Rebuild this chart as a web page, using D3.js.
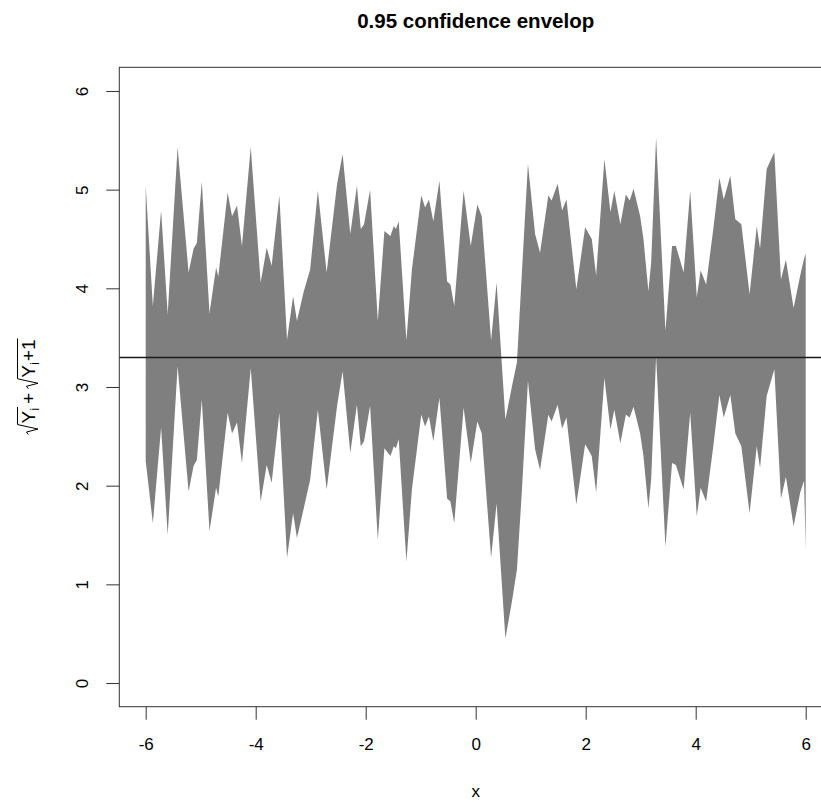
<!DOCTYPE html>
<html>
<head>
<meta charset="utf-8">
<script src="https://cdn.jsdelivr.net/npm/d3@7"></script>
<style>
  html, body { margin: 0; padding: 0; background: #fff; }
  svg { display: block; font-family: "Liberation Sans", Arial, Helvetica, sans-serif; }
</style>
</head>
<body>
<svg id="chart" width="821" height="803"></svg>
<script>
// ---------------- data ----------------
const titleText = "0.95 confidence envelop";
const xLabel = "x";
const xTicks = [-6, -4, -2, 0, 2, 4, 6];
const yTicks = [0, 1, 2, 3, 4, 5, 6];
const refLevel = 3.3;

const xs = [-6.00,-5.87,-5.72,-5.60,-5.42,-5.22,-5.13,-5.07,-4.98,-4.84,-4.72,-4.68,-4.51,-4.43,-4.34,-4.25,-4.09,-3.91,-3.80,-3.71,-3.57,-3.43,-3.32,-3.25,-3.13,-3.01,
  -2.87,-2.71,-2.52,-2.42,-2.28,-2.16,-2.09,-2.03,-1.92,-1.78,-1.66,-1.55,-1.49,-1.45,-1.40,-1.26,-1.16,-0.99,-0.92,-0.85,-0.77,-0.66,-0.52,-0.46,-0.39,-0.22,-0.09,
  0.03,0.11,0.28,0.38,0.54,0.66,0.75,0.84,0.95,1.08,1.17,1.32,1.38,1.49,1.57,1.65,1.83,1.99,2.11,2.19,2.34,2.45,2.52,2.63,2.73,2.80,2.87,
  2.99,3.05,3.14,3.19,3.28,3.45,3.57,3.64,3.78,3.90,4.02,4.09,4.19,4.32,4.43,4.51,4.63,4.72,4.83,4.98,5.11,5.17,5.29,5.43,5.55,5.64,5.78,5.90,5.97,6.00];

const upper = [5.04,3.82,4.79,3.74,5.43,4.16,4.40,4.46,5.08,3.75,4.21,4.12,4.97,4.73,4.84,4.43,5.43,4.06,4.41,4.23,4.94,3.48,3.92,3.67,3.96,4.19,
  4.99,4.16,5.06,5.36,4.55,5.04,4.60,4.65,5.00,3.67,4.58,4.53,4.63,4.60,4.68,3.47,4.19,4.94,4.82,4.90,4.68,5.09,4.07,4.04,3.82,4.99,4.43,
  4.85,4.73,3.47,4.06,2.67,3.01,3.25,4.16,5.26,4.55,4.36,4.94,4.89,5.06,4.79,4.90,3.99,4.62,4.50,4.13,5.31,4.77,4.99,4.65,4.95,4.89,5.01,
  4.73,4.50,3.97,4.26,5.53,3.57,4.43,4.43,4.16,4.99,3.91,4.18,4.04,4.60,5.12,4.90,5.14,4.70,4.65,3.94,4.63,4.40,5.21,5.38,4.09,4.29,3.80,4.13,4.30,4.35];

const lower = [2.25,1.62,2.59,1.50,3.21,1.94,2.20,2.26,2.87,1.54,1.98,1.89,2.74,2.53,2.64,2.23,3.19,1.84,2.21,2.03,2.74,1.27,1.72,1.47,1.76,2.06,
  2.77,1.96,2.81,3.16,2.33,2.82,2.40,2.45,2.81,1.45,2.38,2.30,2.40,2.38,2.47,1.23,1.96,2.72,2.60,2.70,2.45,2.89,1.87,1.84,1.62,2.79,2.23,
  2.65,2.53,1.27,1.82,0.45,0.83,1.15,1.95,3.06,2.37,2.16,2.72,2.65,2.82,2.58,2.69,1.81,2.42,2.30,1.93,3.09,2.57,2.77,2.43,2.72,2.69,2.80,
  2.53,2.30,1.77,2.06,3.31,1.38,2.23,2.21,1.96,2.74,1.69,1.98,1.84,2.40,2.92,2.69,2.92,2.53,2.40,1.72,2.40,2.18,2.91,3.18,1.87,2.09,1.59,1.93,2.05,1.35];

// ---------------- layout ----------------
const W = 821, H = 803;
const plot = { left: 119.3, right: 832.1, top: 67.3, bottom: 706.7 };
const svg = d3.select("#chart");

const x = d3.scaleLinear().domain([-6.48, 6.48]).range([plot.left, plot.right]);
const y = d3.scaleLinear().domain([-0.24, 6.24]).range([plot.bottom, plot.top]);

const rows = xs.map((v, i) => ({ x: v, lo: lower[i], hi: upper[i] }));

// envelope
const area = d3.area()
  .x(d => x(d.x))
  .y0(d => y(d.lo))
  .y1(d => y(d.hi));
svg.append("path")
  .datum(rows)
  .attr("d", area)
  .attr("fill", "#7f7f7f")
  .attr("stroke", "none");

// reference line (abline)
svg.append("line")
  .attr("x1", plot.left).attr("x2", plot.right)
  .attr("y1", y(refLevel)).attr("y2", y(refLevel))
  .attr("stroke", "#1a1a1a").attr("stroke-width", 1.5);

// box
svg.append("rect")
  .attr("x", plot.left).attr("y", plot.top)
  .attr("width", plot.right - plot.left).attr("height", plot.bottom - plot.top)
  .attr("fill", "none").attr("stroke", "#333").attr("stroke-width", 1);

// x axis
const xAxis = d3.axisBottom(x).tickValues(xTicks).tickSize(13).tickPadding(18)
  .tickFormat(d => d3.format("d")(d).replace("−", "-"));
const gx = svg.append("g").attr("transform", `translate(0,${plot.bottom})`).call(xAxis);
gx.select(".domain").remove();
gx.selectAll(".tick line").attr("stroke", "#333");
gx.selectAll(".tick text").attr("font-size", 17).attr("fill", "#000")
  .attr("font-family", "Liberation Sans, Arial, sans-serif");

// y axis
const yAxis = d3.axisLeft(y).tickValues(yTicks).tickSize(13).tickFormat(d3.format("d"));
const gy = svg.append("g").attr("transform", `translate(${plot.left},0)`).call(yAxis);
gy.select(".domain").remove();
gy.selectAll(".tick line").attr("stroke", "#333");
gy.selectAll(".tick text")
  .attr("x", null).attr("dy", null)
  .attr("transform", "translate(-31,0) rotate(-90)")
  .attr("text-anchor", "middle")
  .attr("font-size", 17).attr("fill", "#000")
  .attr("font-family", "Liberation Sans, Arial, sans-serif");

// title
svg.append("text")
  .attr("x", (plot.left + plot.right) / 2).attr("y", 28)
  .attr("text-anchor", "middle")
  .attr("font-size", 20.5).attr("font-weight", "bold")
  .text(titleText);

// x label
svg.append("text")
  .attr("x", (plot.left + plot.right) / 2).attr("y", 797)
  .attr("text-anchor", "middle")
  .attr("font-size", 17)
  .text(xLabel);

// y label: sqrt(Y_i) + sqrt(Y_i + 1), rotated
const fs = 19;
const yl = svg.append("g")
  .attr("transform", `translate(35,${(plot.top + plot.bottom) / 2}) rotate(-90)`);
const inner = yl.append("g");
let cx = 0;
function addText(str, size, dy) {
  const t = inner.append("text").attr("x", cx).attr("y", dy).attr("font-size", size).text(str);
  const w = t.node().getComputedTextLength();
  cx += w;
  return w;
}
function addRadical(parts) {
  const x0 = cx;
  const rw = 10;
  cx += rw + 1;
  parts();
  const x1 = cx + 1;
  const top = -fs * 0.92, base = 3;
  inner.append("path")
    .attr("d", `M${x0},${-fs * 0.35} L${x0 + 2.5},${-fs * 0.45} L${x0 + 5.5},${base} L${x0 + rw},${top} L${x1},${top}`)
    .attr("fill", "none").attr("stroke", "#000").attr("stroke-width", 1);
}
addRadical(() => { addText("Y", fs, 0); addText("i", fs * 0.7, 4); });
cx += 4; addText("+", fs, 0); cx += 4;
addRadical(() => { addText("Y", fs, 0); addText("i", fs * 0.7, 4); cx += 1; addText("+", fs, 0); addText("1", fs, 0); });
inner.attr("transform", `translate(${-cx / 2},0)`);
</script>
</body>
</html>
